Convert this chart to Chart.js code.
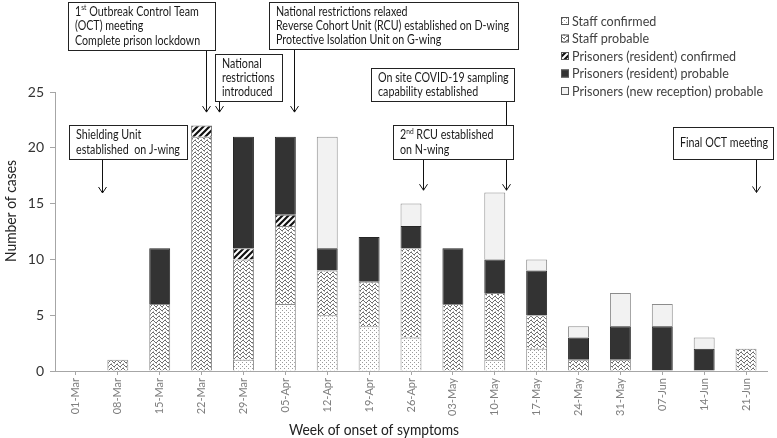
<!DOCTYPE html>
<html><head><meta charset="utf-8">
<script src="https://cdn.jsdelivr.net/npm/chart.js@4"></script>
<style>html,body{margin:0;padding:0;background:#fff}#wrap{width:777px;height:438px;position:relative}</style>
</head><body><div id="wrap"><canvas id="c" width="777" height="438"></canvas></div>
<script>
const categories = ['01-Mar','08-Mar','15-Mar','22-Mar','29-Mar','05-Apr','12-Apr','19-Apr','26-Apr','03-May','10-May','17-May','24-May','31-May','07-Jun','14-Jun','21-Jun'];
const staffConfirmed    = [0,0,0,0,1,6,5,4,3,0,1,2,0,0,0,0,0];
const staffProbable     = [0,1,6,21,9,7,4,4,8,6,6,3,1,1,0,0,2];
const residentConfirmed = [0,0,0,1,1,1,0,0,0,0,0,0,0,0,0,0,0];
const residentProbable  = [0,0,5,0,10,7,2,4,2,5,3,4,2,3,4,2,0];
const newReception      = [0,0,0,0,0,0,10,0,2,0,6,1,1,3,2,1,0];
const seriesLabels = ['Staff confirmed','Staff probable','Prisoners (resident) confirmed','Prisoners (resident) probable','Prisoners (new reception) probable'];
const yTicks = [0,5,10,15,20,25];

const FONT = 'Lato, "Open Sans", sans-serif';

function scaleFor(text, size, target){
  const g=document.createElement('canvas').getContext('2d');
  g.font=size+'px '+FONT; return target/g.measureText(text).width;
}
const ANN = 13.5, LEG = 13.5, XT = 16, YT = 15.5;
const annSx = scaleFor('Reverse Cohort Unit (RCU) established on D-wing', ANN, 233);
const legSx = scaleFor('Prisoners (new reception) probable', LEG, 191);
const xtSx = scaleFor('Week of onset of symptoms', XT, 170);
const ytSx = scaleFor('Number of cases', YT, 102);

function txt(ctx,t,x,y,size,sx){
  ctx.font=size+'px '+FONT;
  ctx.save();ctx.translate(x,y);ctx.scale(sx,1);ctx.fillText(t,0,0);ctx.restore();
  return ctx.measureText(t).width*sx;
}

function makePattern(w,h,draw){const c=document.createElement('canvas');c.width=w;c.height=h;const g=c.getContext('2d');draw(g);return g.createPattern(c,'repeat');}
const patDots = makePattern(4,4,g=>{g.fillStyle='#fff';g.fillRect(0,0,4,4);g.fillStyle='#9a9a9a';g.fillRect(0,0,1,1);g.fillRect(2,2,1,1);});
const patZig = makePattern(6,4,g=>{g.fillStyle='#fff';g.fillRect(0,0,6,4);g.fillStyle='#6e6e6e';const ys=[2,1,0,0,1,2];for(let x=0;x<6;x++){g.fillRect(x,ys[x],1,1);}g.fillStyle='#b0b0b0';g.fillRect(0,3,1,1);g.fillRect(3,3,1,1);});
const patStripe = makePattern(6,6,g=>{g.fillStyle='#fff';g.fillRect(0,0,6,6);g.strokeStyle='#111';g.lineWidth=2.2;g.beginPath();g.moveTo(-3,3);g.lineTo(3,-3);g.moveTo(0,6);g.lineTo(6,0);g.moveTo(3,9);g.lineTo(9,3);g.stroke();});

const fills = [patDots, patZig, patStripe, '#333333', '#f2f2f2'];
const borders = ['#8c8c8c','#8c8c8c','#6e6e6e','#262626','#8c8c8c'];
const seriesData = [staffConfirmed, staffProbable, residentConfirmed, residentProbable, newReception];

const datasets = seriesData.map((d,i)=>({
  label: seriesLabels[i],
  data: d.map(v=>v||null),
  backgroundColor: fills[i],
  borderColor: borders[i],
  borderWidth: 1,
  barPercentage: 0.5,
  categoryPercentage: 1.0,
  stack: 's'
}));

// annotation layout (not data)
const notes = [
  {box:[69,125,118,34], lines:[[['Shielding Unit']],[['established  on J-wing']]], at:0.62, tip:15.95},
  {box:[68,2,147,48], lines:[[['1'],['st',1],[' Outbreak Control Team']],[['(OCT) meeting']],[['Complete prison lockdown']]], at:3.1, tip:23.2},
  {box:[215,54,67,47], lines:[[['National']],[['restrictions']],[['introduced']]], at:3.42, tip:23.2},
  {box:[269,2,249,47], lines:[[['National restrictions relaxed']],[['Reverse Cohort Unit (RCU) established on D-wing']],[['Protective Isolation Unit on G-wing']]], at:5.2, tip:23.2},
  {box:[371,68,143,33], lines:[[['On site COVID-19 sampling']],[['capability established']]], at:10.28, tip:16.2},
  {box:[393,125,120,34], lines:[[['2'],['nd',1],[' RCU established']],[['on N-wing']]], at:8.29, tip:16.2},
  {box:[673,127,100,32], lines:[[['Final OCT meeting']]], at:16.24, tip:16.0}
];

const overlay = {
  id:'overlay',
  afterDraw(chart){
    const ctx=chart.ctx, xs=chart.scales.x, ys=chart.scales.y;
    ctx.save();
    // axis titles
    ctx.fillStyle='#222';
    ctx.textAlign='center';ctx.textBaseline='middle';
    txt(ctx,'Week of onset of symptoms',374,430,XT,xtSx);
    ctx.save();ctx.translate(11,211);ctx.rotate(-Math.PI/2);txt(ctx,'Number of cases',0,0,YT,ytSx);ctx.restore();
    // legend
    ctx.textAlign='left';
    const lys=[21,38.5,56,73.5,91];
    chart.data.datasets.forEach((ds,i)=>{
      const y=lys[i];
      ctx.fillStyle=ds.backgroundColor;ctx.fillRect(561,y-4,8,8);
      ctx.strokeStyle='#555';ctx.lineWidth=1;ctx.strokeRect(561.5,y-3.5,7,7);
      ctx.fillStyle='#404040';txt(ctx,ds.label,572,y+0.5,LEG,legSx);
    });
    // annotations
    const catW = xs.getPixelForValue(1)-xs.getPixelForValue(0);
    notes.forEach(n=>{
      const [bx,by,bw,bh]=n.box;
      const ax=Math.round(xs.getPixelForValue(0)+n.at*catW)+0.5;
      const ty=ys.getPixelForValue(n.tip);
      ctx.strokeStyle='#111';ctx.lineWidth=1;
      ctx.beginPath();ctx.moveTo(ax,by+bh);ctx.lineTo(ax,ty);ctx.stroke();
      ctx.beginPath();ctx.moveTo(ax-4,ty-6);ctx.lineTo(ax,ty);ctx.lineTo(ax+4,ty-6);ctx.stroke();
      ctx.fillStyle='#fff';ctx.fillRect(bx,by,bw,bh);
      ctx.strokeStyle='#222';ctx.strokeRect(bx+0.5,by+0.5,bw,bh);
      ctx.fillStyle='#1a1a1a';ctx.textAlign='left';ctx.textBaseline='middle';
      const lh=14.3; const startY = by + bh/2 - (n.lines.length-1)*lh/2;
      n.lines.forEach((ln,li)=>{
        let x=bx+7; const y=startY+li*lh;
        ln.forEach(([t,sup])=>{
          if(sup) x+=txt(ctx,t,x,y-4,+(ANN*0.62).toFixed(2),annSx);
          else x+=txt(ctx,t,x,y,ANN,annSx);
        });
      });
    });
    ctx.restore();
  }
};

new Chart(document.getElementById('c'),{
  type:'bar',
  data:{labels:categories,datasets},
  options:{
    responsive:false,animation:false,
    layout:{padding:{top:92,right:10,left:0,bottom:0}},
    plugins:{legend:{display:false},tooltip:{enabled:false}},
    scales:{
      x:{stacked:true,
        afterFit:s=>{s.height=67;},
        grid:{offset:false,drawOnChartArea:false,drawTicks:true,tickLength:4,color:'#a6a6a6'},
        border:{color:'#a6a6a6'},
        ticks:{autoSkip:false,minRotation:90,maxRotation:90,font:{family:FONT,size:11},color:'#7f7f7f',padding:3}
      },
      y:{stacked:true,min:0,max:25,
        afterFit:s=>{s.width=55;},
        afterBuildTicks:s=>{s.ticks=yTicks.map(v=>({value:v}));},
        grid:{drawOnChartArea:false,drawTicks:true,tickLength:5,color:'#a6a6a6'},
        border:{color:'#a6a6a6'},
        ticks:{font:{family:FONT,size:14},color:'#333',padding:6}
      }
    }
  },
  plugins:[overlay]
});
</script></body></html>
